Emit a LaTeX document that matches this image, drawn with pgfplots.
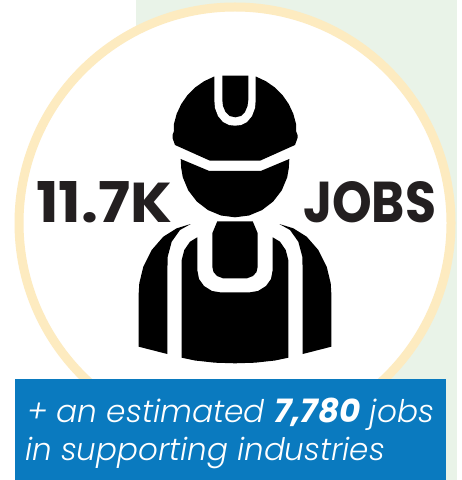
\documentclass[border=0pt]{standalone}
\usepackage{graphicx}
\usepackage{pgfplots}
\pgfplotsset{compat=1.18}
\usepackage{fontspec}
\setmainfont{Poppins}
\newfontfamily\lightf{Poppins Light}
\definecolor{bggreen}{HTML}{E9F3E8}
\definecolor{ringc}{HTML}{FDEBC0}
\definecolor{boxblue}{HTML}{0A7ABF}
\definecolor{inkc}{HTML}{231F20}
\pgfplotsset{panel/.style={
    hide axis,scale only axis,clip=false,
    width=461bp,height=480bp,
    xmin=0,xmax=461,ymin=0,ymax=480,
    y dir=reverse}}
\begin{document}
\begin{tikzpicture}
% marks go on top of everything else in an axis, so the ring gets its own axis underneath
\begin{axis}[panel]
\addplot[fill=white,draw=none] coordinates {(0,0)(461,0)(461,480)(0,480)} -- cycle;
\addplot[fill=bggreen,draw=none] coordinates {(136,0)(457,0)(457,480)(136,480)} -- cycle;
\addplot[only marks,mark=*,mark size=216bp,mark options={draw=ringc,fill=white,line width=9bp}]
    coordinates {(235,223)};
\end{axis}
\begin{axis}[panel]
% helmet
\addplot[fill=black,draw=none] coordinates {
    (235,73)(213.8,76.7)(204,81.3)(195.1,87.5)(187.5,95.1)(181.3,104)(176.7,113.8)(173.9,124.2)
    (174,131)(172.5,135)(172.5,138)(175,145)(210,160.7)(260,160.7)(295,145)(297.5,138)(297.5,135)
    (296,131)(296.1,124.2)(293.3,113.8)(288.7,104)(282.5,95.1)(274.9,87.5)(266,81.3)(256.2,76.7)
    } -- cycle;
\addplot[fill=white,draw=none] coordinates {
    (214.3,70)(255.7,70)(255.7,100)(255,108)(252,116)(247,122)(241,125)(235,125.7)(229,125)(223,122)
    (218,116)(215,108)(214.3,100)} -- cycle;
\addplot[fill=black,draw=none] coordinates {
    (222.3,75.7)(248.3,75.7)(248.3,100)(247.5,106)(245,112)(241,116)(235.3,117.3)(229.5,116)(225.5,112)
    (223,106)(222.3,100)} -- cycle;
% face
\addplot[fill=black,draw=none] coordinates {
    (180.7,159)(209.3,171)(260.7,171)(289.3,159)(288.8,168)(287.2,177.3)(281.8,190.3)(273.2,201.5)(262,210.1)
    (249,215.5)(235,217.3)(221,215.5)(208,210.1)(196.8,201.5)(188.2,190.3)(182.8,177.3)(181.2,168)} -- cycle;
% neck
\addplot[fill=black,draw=none] coordinates {
    (217.3,221.3)(252.7,221.3)(257.7,233.3)(257.7,266.7)(256.5,272)(253,276)(247,278.3)
    (223,278.3)(217,276)(213.5,272)(212.3,266.7)(212.3,233.3)} -- cycle;
% shoulders
\addplot[fill=black,draw=none] coordinates {
    (190.7,224)(176.7,228.3)(163.3,236.7)(151.7,250)(143.3,266.7)(139.3,283.3)(138.7,293.3)(138.7,346.7)
    (167.3,354)(167.3,273.3)(167.7,256.7)(171.7,241.7)(180,230)} -- cycle;
\addplot[fill=black,draw=none] coordinates {
    (279.3,224)(293.3,228.3)(306.7,236.7)(318.3,250)(326.7,266.7)(330.7,283.3)(331.3,293.3)(331.3,346.7)
    (302.7,354)(302.7,273.3)(302.3,256.7)(298.3,241.7)(290,230)} -- cycle;
% bib
\addplot[fill=black,draw=none] coordinates {
    (197.3,237.3)(190,241.7)(184.3,250)(181.7,260)(181.7,357.7)(195,360.5)(215,362.7)(235,363.3)(255,362.7)(275,360.5)
    (288.3,357.7)(288.3,260)(285.7,250)(280,241.7)(272.7,237.3)(272.7,270)(271,279)(266,286)(258,291)(250,292.3)
    (220,292.3)(212,291)(204,286)(199,279)(197.3,270)} -- cycle;
% blue box
\addplot[fill=boxblue,draw=none] coordinates {(15,379)(446,379)(446,480)(15,480)} -- cycle;
% text
\node[anchor=base west,inner sep=0,text=inkc,font=\fontsize{56bp}{60bp}\selectfont\bfseries] at (axis cs:36,222) {\resizebox{136bp}{41bp}{11.7K}};
\node[anchor=base west,inner sep=0,text=inkc,font=\fontsize{56bp}{60bp}\selectfont\bfseries] at (axis cs:303,222) {\resizebox{133bp}{41bp}{JOBS}};
\node[anchor=base west,inner sep=0,text=white,font=\fontsize{31.2bp}{34bp}\selectfont\lightf\itshape] at (axis cs:27,422) {+ an estimated {\normalfont\bfseries\itshape\fontsize{32.5bp}{34bp}\selectfont 7,780} jobs};
\node[anchor=base west,inner sep=0,text=white,font=\fontsize{31bp}{34bp}\selectfont\lightf\itshape] at (axis cs:25,460) {in supporting industries};
\end{axis}
\end{tikzpicture}
\end{document}
